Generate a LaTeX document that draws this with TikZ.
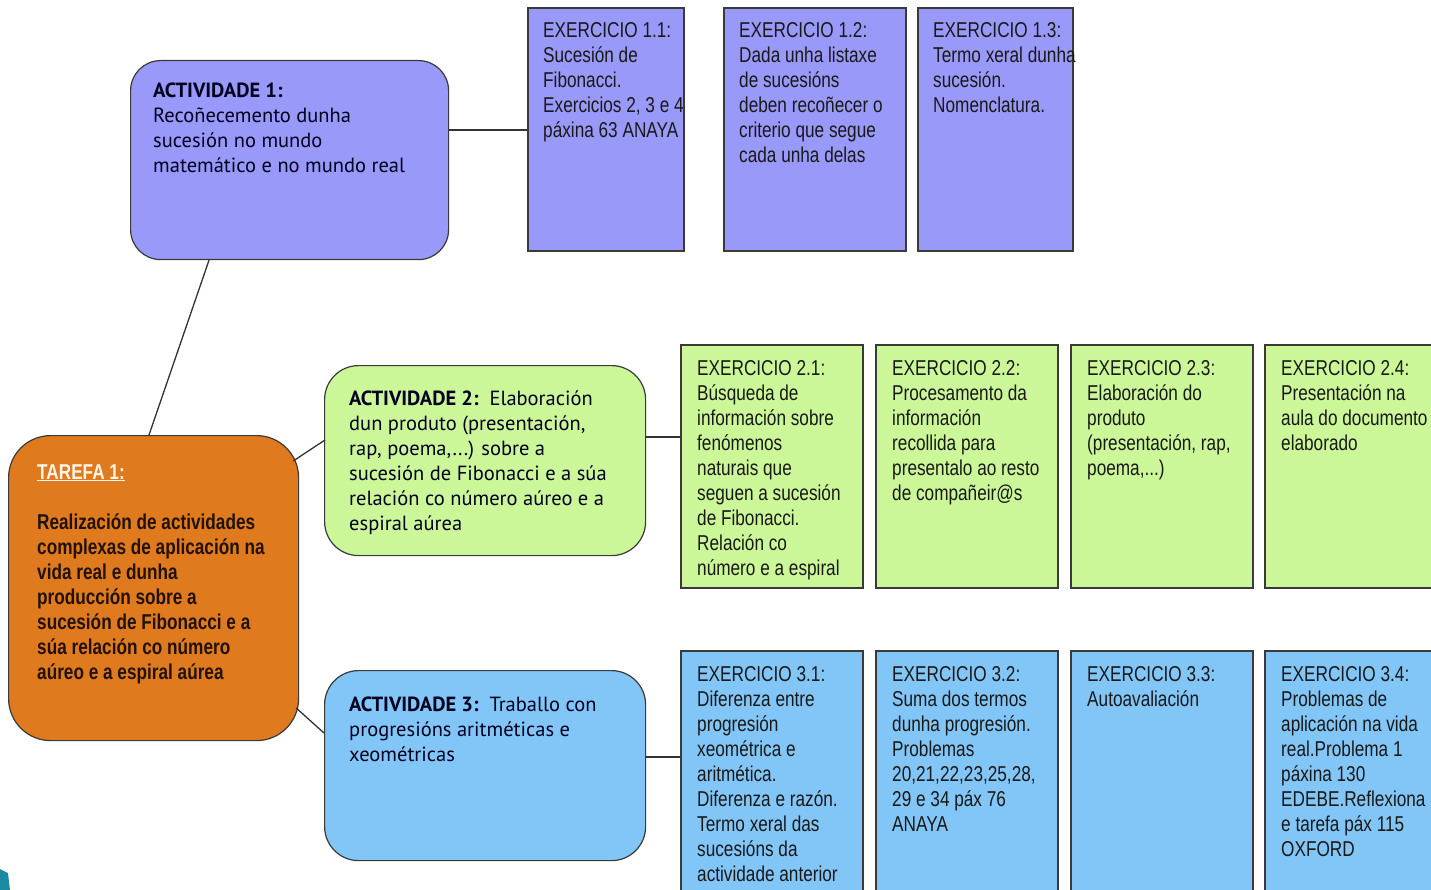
\documentclass[tikz,border=0pt]{standalone}
\usepackage{fontspec}
\setmainfont{Liberation Sans}
\newfontfamily\exfont[FakeStretch=0.8]{Liberation Sans}
\newfontfamily\actfont{PT Sans}
\usetikzlibrary{calc}
\definecolor{purp}{HTML}{9999FA}
\definecolor{grn}{HTML}{CCF799}
\definecolor{blu}{HTML}{82C6F8}
\definecolor{orn}{HTML}{E07A1E}
\definecolor{teal}{HTML}{1A8BA0}
\definecolor{edge}{HTML}{3A3A3A}
\newcommand{\tx}[1]{\parbox[t]{400pt}{\raggedright #1}}
\tikzset{
  exbox/.style={draw=edge, line width=1.6pt, anchor=north west, inner sep=0pt},
  actbox/.style={draw=edge, line width=1.2pt, rounded corners=30pt, anchor=north west, inner sep=0pt},
  extext/.style={anchor=base west, inner sep=0pt, font=\exfont\fontsize{21.5}{25}\selectfont, text=black!90},
  acttext/.style={anchor=base west, inner sep=0pt, font=\actfont\fontsize{20.5}{25}\selectfont, text=black!80!blue!60!black},
  link/.style={draw=black!80, line width=1.3pt}
}
\begin{document}
\begin{tikzpicture}[x=1pt,y=-1pt]
\useasboundingbox (0,0) rectangle (1431,890);
\clip (0,0) rectangle (1431,890);
\fill[white] (0,0) rectangle (1431,890);

% ---------- ACTIVIDADE 1 ----------
\node[actbox, fill=purp, minimum width=318pt, minimum height=199pt] (a1) at (130,60) {};
\node[acttext] (a1t) at ($(a1.north west)+(23,38)$) {\tx{\textbf{ACTIVIDADE 1:}\\Recoñecemento dunha\\sucesión no mundo\\matemático e no mundo real}};

\node[exbox, fill=purp, minimum width=156pt, minimum height=243pt] (e11) at (527,7) {};
\node[exbox, fill=purp, minimum width=182pt, minimum height=243pt] (e12) at (723,7) {};
\node[exbox, fill=purp, minimum width=155pt, minimum height=243pt] (e13) at (917,7) {};
\node[extext] (e11t) at ($(e11.north west)+(16,31)$) {\tx{EXERCICIO 1.1:\\Sucesión de\\Fibonacci.\\Exercicios 2, 3 e 4\\páxina 63 ANAYA}};
\node[extext] (e12t) at ($(e12.north west)+(16,31)$) {\tx{EXERCICIO 1.2:\\Dada unha listaxe\\de sucesións\\deben recoñecer o\\criterio que segue\\cada unha delas}};
\node[extext] (e13t) at ($(e13.north west)+(16,31)$) {\tx{EXERCICIO 1.3:\\Termo xeral dunha\\sucesión.\\Nomenclatura.}};

% ---------- TAREFA 1 ----------
\node[actbox, fill=orn, rounded corners=42pt, minimum width=290pt, minimum height=305pt] (t1) at (8,435) {};
\node[anchor=base west, inner sep=0pt, font=\exfont\bfseries\fontsize{21.5}{25}\selectfont, text=black!85!orn] (t1t) at ($(t1.north west)+(29,44)$) {\tx{\textcolor{orange!8}{\underline{TAREFA 1:}}\\[25pt]Realización de actividades\\complexas de aplicación na\\vida real e dunha\\producción sobre a\\sucesión de Fibonacci e a\\súa relación co número\\aúreo e a espiral aúrea}};

% ---------- ACTIVIDADE 2 ----------
\node[actbox, fill=grn, rounded corners=34pt, minimum width=321pt, minimum height=190pt] (a2) at (324,365) {};
\node[acttext] (a2t) at ($(a2.north west)+(25,40)$) {\tx{\textbf{ACTIVIDADE 2:}\ \ Elaboración\\dun produto (presentación,\\rap, poema,...) sobre a\\sucesión de Fibonacci e a súa\\relación co número aúreo e a\\espiral aúrea}};

\node[exbox, fill=grn, minimum width=182pt, minimum height=243pt] (e21) at (680,344) {};
\node[exbox, fill=grn, minimum width=182pt, minimum height=243pt] (e22) at (875,344) {};
\node[exbox, fill=grn, minimum width=182pt, minimum height=243pt] (e23) at (1070,344) {};
\node[exbox, fill=grn, minimum width=182pt, minimum height=243pt] (e24) at (1264,344) {};
\node[extext] (e21t) at ($(e21.north west)+(17,31)$) {\tx{EXERCICIO 2.1:\\Búsqueda de\\información sobre\\fenómenos\\naturais que\\seguen a sucesión\\de Fibonacci.\\Relación co\\número e a espiral}};
\node[extext] (e22t) at ($(e22.north west)+(17,31)$) {\tx{EXERCICIO 2.2:\\Procesamento da\\información\\recollida para\\presentalo ao resto\\de compañeir@s}};
\node[extext] (e23t) at ($(e23.north west)+(17,31)$) {\tx{EXERCICIO 2.3:\\Elaboración do\\produto\\(presentación, rap,\\poema,...)}};
\node[extext] (e24t) at ($(e24.north west)+(17,31)$) {\tx{EXERCICIO 2.4:\\Presentación na\\aula do documento\\elaborado}};

% ---------- ACTIVIDADE 3 ----------
\node[actbox, fill=blu, rounded corners=34pt, minimum width=321pt, minimum height=190pt] (a3) at (324,670) {};
\node[acttext] (a3t) at ($(a3.north west)+(25,41)$) {\tx{\textbf{ACTIVIDADE 3:}\ \ Traballo con\\progresións aritméticas e\\xeométricas}};

\node[exbox, fill=blu, minimum width=182pt, minimum height=250pt] (e31) at (680,650) {};
\node[exbox, fill=blu, minimum width=182pt, minimum height=250pt] (e32) at (875,650) {};
\node[exbox, fill=blu, minimum width=182pt, minimum height=250pt] (e33) at (1070,650) {};
\node[exbox, fill=blu, minimum width=182pt, minimum height=250pt] (e34) at (1264,650) {};
\node[extext] (e31t) at ($(e31.north west)+(17,31)$) {\tx{EXERCICIO 3.1:\\Diferenza entre\\progresión\\xeométrica e\\aritmética.\\Diferenza e razón.\\Termo xeral das\\sucesións da\\actividade anterior}};
\node[extext] (e32t) at ($(e32.north west)+(17,31)$) {\tx{EXERCICIO 3.2:\\Suma dos termos\\dunha progresión.\\Problemas\\20,21,22,23,25,28,\\29 e 34 páx 76\\ANAYA}};
\node[extext] (e33t) at ($(e33.north west)+(17,31)$) {\tx{EXERCICIO 3.3:\\Autoavaliación}};
\node[extext] (e34t) at ($(e34.north west)+(17,31)$) {\tx{EXERCICIO 3.4:\\Problemas de\\aplicación na vida\\real.Problema 1\\páxina 130\\EDEBE.Reflexiona\\e tarefa páx 115\\OXFORD}};

% ---------- connectors ----------
\draw[link] ($(a1.south west)+(79,0)$) -- ($(t1.north west)+(141,0)$);
\draw[link] ($(a1.north east)+(0,70)$) -- ($(e11.north west)+(0,123)$);
\draw[link] ($(t1.north east)+(-6,26)$) -- ($(a2.north west)+(1,75)$);
\draw[link] ($(t1.north east)+(-3,273)$) -- ($(a3.north west)+(0,63)$);
\draw[link] ($(a2.north east)+(0,72)$) -- ($(e21.north west)+(0,93)$);
\draw[link] ($(a3.north east)+(0,87)$) -- ($(e31.north west)+(0,107)$);

% ---------- corner decoration ----------
\fill[teal] (0,869) -- (8,873) -- (10,890) -- (0,890) -- cycle;
\end{tikzpicture}
\end{document}
